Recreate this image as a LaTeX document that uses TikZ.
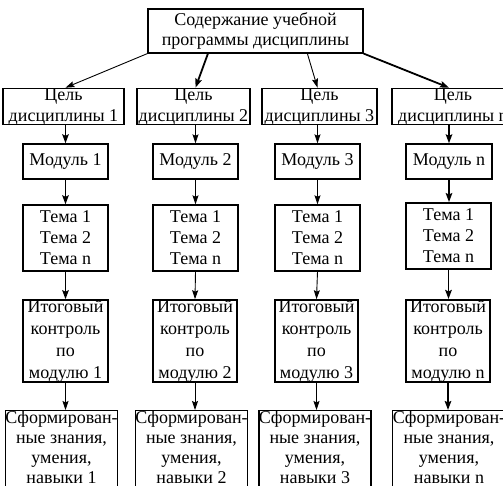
\documentclass[tikz,border=0pt]{standalone}
\usepackage{fontspec}
\setmainfont{Liberation Serif}
\usetikzlibrary{arrows.meta,calc}
\tikzset{
  box/.style={draw=black, line width=1.4pt, fill=white, align=center, inner sep=0pt,
    font=\fontsize{18}{21}\selectfont},
  resbox/.style={box, anchor=north, inner ysep=0.5pt, font=\fontsize{18}{20}\selectfont},
  thinarr/.style={line width=0.9pt, -{Stealth[length=9pt,width=6pt,inset=1.5pt]}},
  thickarr/.style={line width=1.8pt, -{Stealth[length=9pt,width=6.5pt,inset=1.5pt]}}
}
\begin{document}
\begin{tikzpicture}[x=1pt,y=-1pt]
\useasboundingbox (0,0) rectangle (503,485);
\clip (0,0) rectangle (503,485);
\fill[white] (0,0) rectangle (503,485);
% top
\node[box, line width=1.1pt, minimum width=215pt, minimum height=44pt, font=\fontsize{18}{20}\selectfont] (top) at (255.5,31)
  {Содержание учебной\\программы дисциплины};
% goals
\node[box, minimum width=121pt, minimum height=35pt] (cel1) at (63.5,106.5) {Цель\\дисциплины 1};
\node[box, minimum width=113pt, minimum height=35pt] (cel2) at (193.5,106.5) {Цель\\дисциплины 2};
\node[box, minimum width=115pt, minimum height=35pt] (cel3) at (319.5,106.5) {Цель\\дисциплины 3};
\node[box, minimum width=122pt, minimum height=35pt] (cel4) at (453,106.5) {Цель\\дисциплины n};
% modules
\node[box, minimum width=85pt, minimum height=35pt] (mod1) at (65.5,161.5) {Модуль 1};
\node[box, minimum width=85pt, minimum height=35pt] (mod2) at (195.5,161.5) {Модуль 2};
\node[box, minimum width=85pt, minimum height=35pt] (mod3) at (317.5,161.5) {Модуль 3};
\node[box, minimum width=86pt, minimum height=35pt] (mod4) at (449,161.5) {Модуль n};
% topics
\node[box, minimum width=85pt, minimum height=66pt] (tem1) at (65.5,238) {Тема 1\\Тема 2\\Тема n};
\node[box, minimum width=85pt, minimum height=66pt] (tem2) at (195.5,238) {Тема 1\\Тема 2\\Тема n};
\node[box, minimum width=85pt, minimum height=66pt] (tem3) at (317.5,238) {Тема 1\\Тема 2\\Тема n};
\node[box, line width=1.8pt, minimum width=85pt, minimum height=66pt] (tem4) at (448.5,236) {Тема 1\\Тема 2\\Тема n};
% control
\node[box, minimum width=85pt, minimum height=82pt, font=\fontsize{18}{22}\selectfont] (itg1) at (65.5,341) {Итоговый\\контроль\\по\\модулю 1};
\node[box, minimum width=84pt, minimum height=82pt, font=\fontsize{18}{22}\selectfont] (itg2) at (195,341) {Итоговый\\контроль\\по\\модулю 2};
\node[box, minimum width=83pt, minimum height=82pt, font=\fontsize{18}{22}\selectfont] (itg3) at (316.5,341) {Итоговый\\контроль\\по\\модулю 3};
\node[box, line width=1.8pt, minimum width=84pt, minimum height=82pt, font=\fontsize{18}{22}\selectfont] (itg4) at (448,341) {Итоговый\\контроль\\по\\модулю n};
% results
\node[resbox, minimum width=97pt] (res1) at (61.5,410) {Сформирован-\\ные знания,\\умения,\\навыки 1\\ \strut};
\node[resbox, minimum width=97pt] (res2) at (191.5,410) {Сформирован-\\ные знания,\\умения,\\навыки 2\\ \strut};
\node[resbox, minimum width=96pt] (res3) at (315,410) {Сформирован-\\ные знания,\\умения,\\навыки 3\\ \strut};
\node[resbox, line width=1.1pt, minimum width=106pt] (res4) at (449,410) {Сформирован-\\ные знания,\\умения,\\навыки n\\ \strut};
% top arrows
\draw[thinarr] (top.south west) -- (cel1.north -| mod1.north);
\draw[thickarr] ($(top.south west)!0.28!(top.south east)$) -- (cel2.north -| mod2.north);
\draw[thinarr] ($(top.south west)!0.74!(top.south east)$) -- (cel3.north -| mod3.north);
\draw[thickarr] (top.south east) -- (cel4.north -| mod4.north);
% column 1
\draw[thickarr] (cel1.south -| mod1.north) -- (mod1.north);
\draw[thickarr] (mod1.south) -- (tem1.north);
\draw[thickarr] (tem1.south) -- (itg1.north);
\draw[thinarr] (itg1.south) -- (res1.north -| itg1.south);
% column 2
\draw[thinarr] (cel2.south -| mod2.north) -- (mod2.north);
\draw[thinarr] (mod2.south) -- (tem2.north);
\draw[thinarr] (tem2.south) -- (itg2.north);
\draw[thinarr] (itg2.south) -- (res2.north -| itg2.south);
% column 3
\draw[thinarr] (cel3.south -| mod3.north) -- (mod3.north);
\draw[thinarr] (mod3.south) -- (tem3.north);
\draw[thinarr] (tem3.south) -- (itg3.north);
\draw[thinarr] (itg3.south) -- (res3.north -| itg3.south);
% column 4
\draw[thickarr] (cel4.south -| mod4.north) -- (mod4.north);
\draw[thickarr] (mod4.south) -- (tem4.north -| mod4.south);
\draw[thickarr] (tem4.south) -- (itg4.north -| tem4.south);
\draw[thickarr] (itg4.south) -- (res4.north -| itg4.south);
\end{tikzpicture}
\end{document}
